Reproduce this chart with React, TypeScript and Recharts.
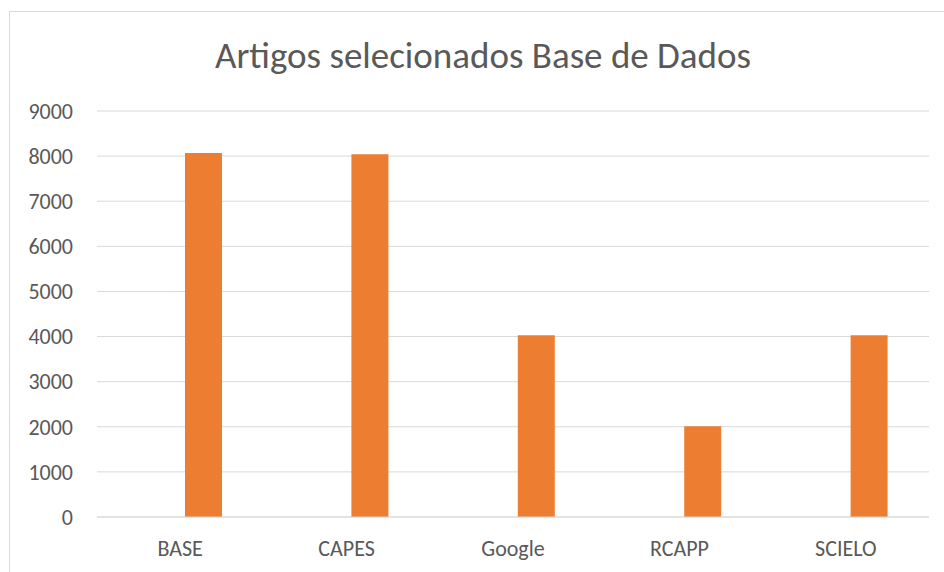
import { BarChart, Bar, XAxis, YAxis, CartesianGrid } from "recharts";

const bases = ["BASE", "CAPES", "Google", "RCAPP", "SCIELO"];
// first Excel series is empty, it only reserves the slot left of each bar
const serieVazia: (number | null)[] = [null, null, null, null, null];
const artigos = [8070, 8040, 4030, 2010, 4030];
const yTicks = [0, 1000, 2000, 3000, 4000, 5000, 6000, 7000, 8000, 9000];

const data = bases.map((b, i) => ({
  base: b,
  vazia: serieVazia[i],
  artigos: artigos[i],
}));

const font = "Calibri, Carlito, 'Liberation Sans', Arial, sans-serif";

export default function App() {
  return (
    <div
      style={{
        position: "fixed",
        left: 9,
        top: 11,
        width: 940,
        height: 570,
        borderLeft: "1px solid #d9d9d9",
        borderTop: "1px solid #d9d9d9",
        background: "#fff",
        fontFamily: font,
      }}
    >
      <div
        style={{
          position: "absolute",
          left: 0,
          width: 946,
          top: 21,
          textAlign: "center",
          fontSize: 37,
          color: "#595959",
          whiteSpace: "nowrap",
        }}
      >
        Artigos selecionados Base de Dados
      </div>
      <BarChart
        width={935}
        height={561}
        data={data}
        margin={{ top: 99, right: 16, bottom: 0, left: 0 }}
        barGap={10}
        barSize={37}
      >
        <CartesianGrid vertical={false} stroke="#d9d9d9" />
        <XAxis
          dataKey="base"
          height={56}
          tickSize={0}
          tickMargin={23}
          axisLine={{ stroke: "#d9d9d9" }}
          tickLine={false}
          tick={{ fill: "#595959", fontSize: 22, fontFamily: font }}
        />
        <YAxis
          width={87}
          domain={[0, 9000]}
          ticks={yTicks}
          tickSize={0}
          tickMargin={24}
          axisLine={false}
          tickLine={false}
          tick={{ fill: "#595959", fontSize: 22, fontFamily: font }}
        />
        <Bar dataKey="vazia" fill="#4472c4" isAnimationActive={false} />
        <Bar dataKey="artigos" fill="#ed7d31" isAnimationActive={false} />
      </BarChart>
    </div>
  );
}
